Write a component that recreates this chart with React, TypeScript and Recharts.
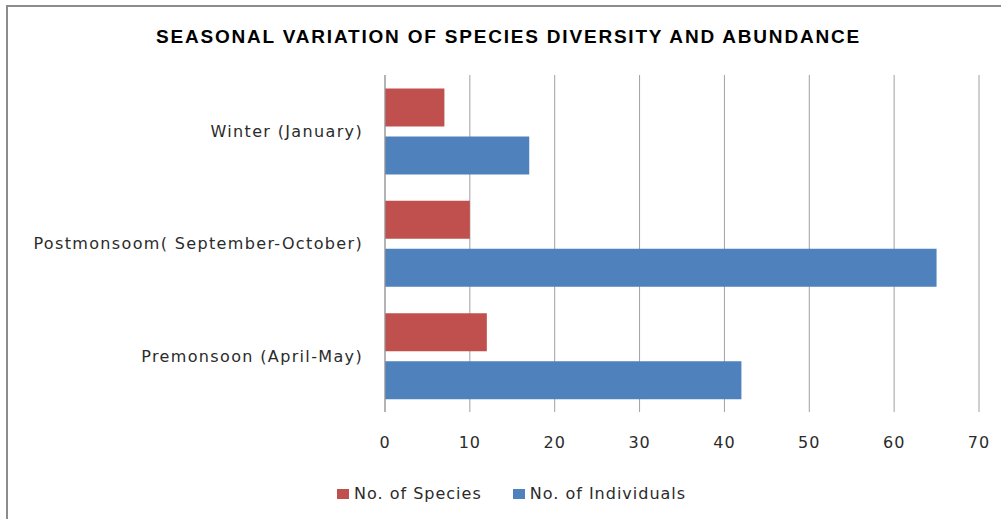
import React from 'react';
import { BarChart, Bar, XAxis, YAxis, CartesianGrid } from 'recharts';

const seasons = ['Winter (January)', 'Postmonsoom( September-October)', 'Premonsoon (April-May)'];
const speciesCounts = [7, 10, 12];
const individualCounts = [17, 65, 42];
const xTicks = [0, 10, 20, 30, 40, 50, 60, 70];

const RED = '#C0504D';
const BLUE = '#4F81BD';
const TEXT = '#2b2b2b';
const FONT = '"DejaVu Sans", sans-serif';

const chartData = seasons.map((season, i) => ({
  season,
  species: speciesCounts[i],
  individuals: individualCounts[i],
}));

const series = [
  { key: 'species', name: 'No. of Species', color: RED },
  { key: 'individuals', name: 'No. of Individuals', color: BLUE },
];

export default function App() {
  return (
    <div style={{ position: 'absolute', left: 0, top: 0, width: 1001, height: 519, background: '#fff', overflow: 'hidden' }}>
      {/* chart frame, only top and left edges are in view */}
      <div style={{ position: 'absolute', left: 6, top: 5, width: 1010, height: 530, borderLeft: '2px solid #8c8c8c', borderTop: '2px solid #8c8c8c' }} />
      <div
        style={{
          position: 'absolute', left: 8, top: 26, width: 1001, textAlign: 'center',
          fontFamily: '"Liberation Sans", Arial, sans-serif', fontWeight: 'bold', fontSize: 19,
          letterSpacing: 1.8, color: '#000',
        }}
      >
        SEASONAL VARIATION OF SPECIES DIVERSITY AND ABUNDANCE
      </div>
      <div style={{ position: 'absolute', left: 0, top: 0 }}>
        <BarChart
          width={1001}
          height={519}
          data={chartData}
          layout="vertical"
          margin={{ top: 75, right: 22, bottom: 77, left: 0 }}
          barCategoryGap="12%"
          barGap={10}
        >
          <CartesianGrid horizontal={false} stroke="#a0a0a0" />
          <XAxis
            type="number"
            domain={[0, 70]}
            ticks={xTicks}
            height={30}
            axisLine={false}
            tickLine={false}
            tickSize={0}
            tickMargin={25}
            tick={{ fill: TEXT, fontSize: 16, fontFamily: FONT, letterSpacing: 1 }}
          />
          <YAxis
            type="category"
            dataKey="season"
            width={385}
            axisLine={{ stroke: '#999' }}
            tickLine={false}
            tickSize={0}
            tickMargin={22}
            tick={{ fill: TEXT, fontSize: 16, fontFamily: FONT, letterSpacing: 1.35 }}
          />
          {series.map((s) => (
            <Bar key={s.key} dataKey={s.key} name={s.name} fill={s.color} isAnimationActive={false} />
          ))}
        </BarChart>
      </div>
      {/* legend */}
      <div
        style={{
          position: 'absolute', left: 337, top: 484, display: 'flex', alignItems: 'center',
          fontFamily: FONT, fontSize: 16, letterSpacing: 1, color: TEXT,
        }}
      >
        {series.map((s) => (
          <div key={s.key} style={{ display: 'flex', alignItems: 'center', marginRight: 31 }}>
            <span style={{ width: 12, height: 10, background: s.color, display: 'inline-block', marginRight: 5 }} />
            <span>{s.name}</span>
          </div>
        ))}
      </div>
    </div>
  );
}
